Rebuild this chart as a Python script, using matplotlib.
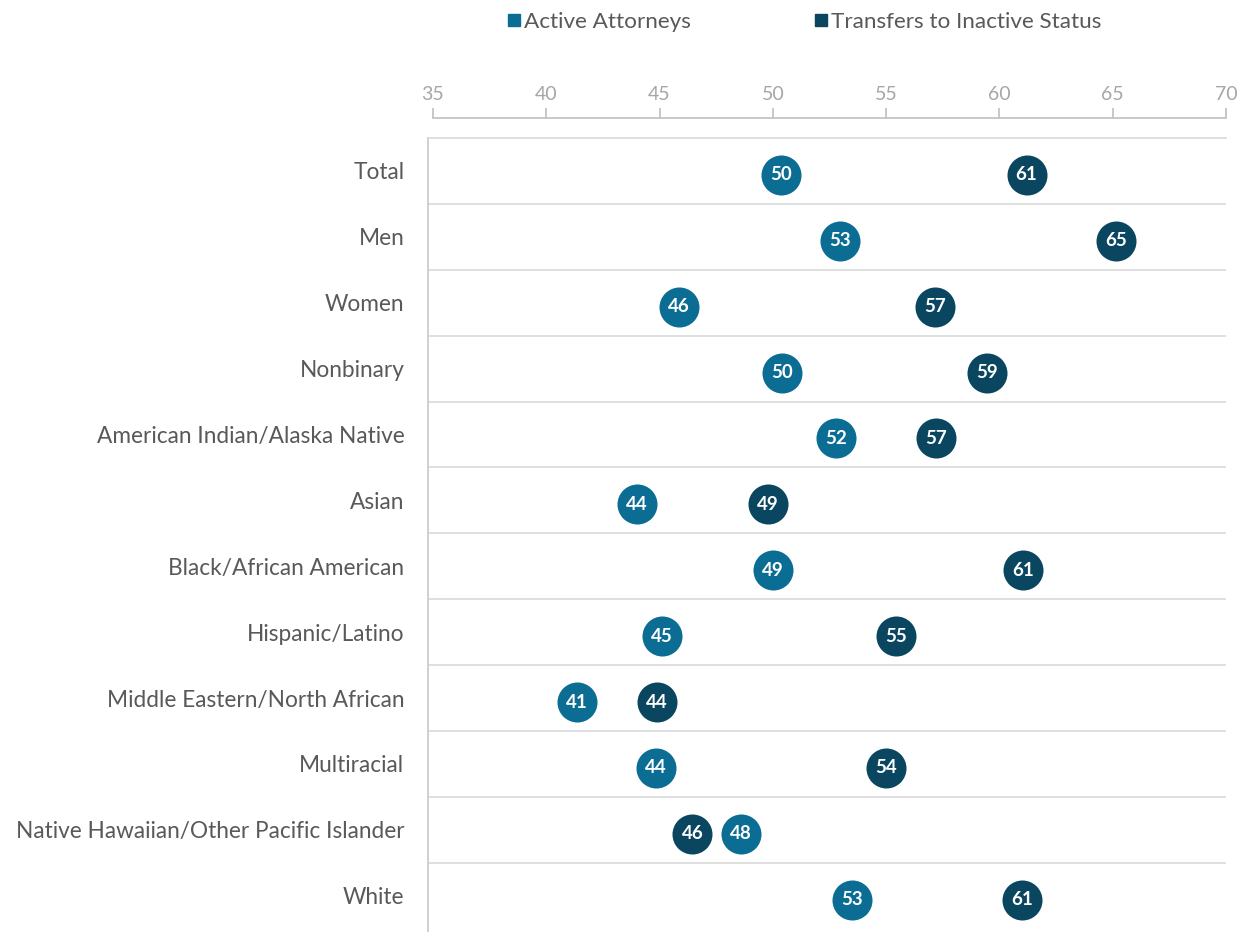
import matplotlib
matplotlib.use("Agg")
import matplotlib.pyplot as plt
from matplotlib.lines import Line2D

plt.rcParams['font.family'] = ['Lato', 'DejaVu Sans']

# data
categories = ['Total', 'Men', 'Women', 'Nonbinary', 'American Indian/Alaska Native',
              'Asian', 'Black/African American', 'Hispanic/Latino',
              'Middle Eastern/North African', 'Multiracial',
              'Native Hawaiian/Other Pacific Islander', 'White']
active = [50.35, 52.95, 45.85, 50.4, 52.8, 44.0, 50.0, 45.1, 41.35, 44.85, 48.6, 53.5]
transfers = [61.2, 65.15, 57.15, 59.45, 57.2, 49.8, 61.05, 55.45, 44.9, 55.0, 46.45, 61.0]
active_labels = [50, 53, 46, 50, 52, 44, 49, 45, 41, 44, 48, 53]
transfer_labels = [61, 65, 57, 59, 57, 49, 61, 55, 44, 54, 46, 61]
ticks = [35, 40, 45, 50, 55, 60, 65, 70]

c_active = '#0b6d93'
c_trans = '#0a465f'
grey = '#595959'

fig = plt.figure(figsize=(12.5, 9.32), dpi=100)

# main plot area
ax = fig.add_axes([428 / 1250, 0.0, 798 / 1250, 1 - 138 / 932])
ax.set_xlim(35 - 5 / 22.66, 70)
n = len(categories)
ax.set_ylim(n - 0.5 + 0.05, -0.5)

for s in ['right', 'bottom']:
    ax.spines[s].set_visible(False)
ax.spines['left'].set_color('#c8c8c8')
ax.spines['top'].set_color('#d9d9d9')
ax.spines['left'].set_linewidth(1.2)
ax.spines['top'].set_linewidth(1.2)
for i in range(1, n):
    ax.axhline(i - 0.5, color='#d9d9d9', lw=1.2, zorder=0)

ax.set_xticks([])
ax.set_yticks(range(n))
ax.set_yticklabels(categories, fontsize=16.3, color=grey)
ax.tick_params(axis='y', length=0, pad=17)

ypos = [i + 0.06 for i in range(n)]
ax.scatter(active, ypos, s=830, color=c_active, zorder=3, linewidths=0)
ax.scatter(transfers, ypos, s=830, color=c_trans, zorder=3, linewidths=0)
for x, y, lab in zip(active, ypos, active_labels):
    ax.text(x, y, str(lab), color='white', ha='center', va='center',
            fontsize=13.5, fontweight='bold', zorder=4)
for x, y, lab in zip(transfers, ypos, transfer_labels):
    ax.text(x, y, str(lab), color='white', ha='center', va='center',
            fontsize=13.5, fontweight='bold', zorder=4)

# separate value axis above the plot
ax2 = fig.add_axes([433 / 1250, 1 - 118 / 932, 793 / 1250, 0.0001])
ax2.set_xlim(35, 70)
ax2.set_yticks([])
for s in ['top', 'right', 'left']:
    ax2.spines[s].set_visible(False)
ax2.spines['bottom'].set_color('#bfbfbf')
ax2.spines['bottom'].set_linewidth(1.2)
ax2.set_xticks(ticks)
ax2.tick_params(axis='x', direction='in', length=7, color='#bfbfbf', width=1.2,
                labelbottom=False, labeltop=True, top=False, bottom=True,
                labelsize=14, labelcolor='#a6a6a6', pad=11)

handles = [Line2D([], [], marker='s', ls='', color=c_active, markersize=9),
           Line2D([], [], marker='s', ls='', color=c_trans, markersize=9)]
fig.legend(handles, ['Active Attorneys', 'Transfers to Inactive Status'],
           loc='center', bbox_to_anchor=(803 / 1250, 1 - 22 / 932), ncol=2,
           frameon=False, fontsize=16.2, labelcolor=grey, handletextpad=0.05,
           columnspacing=5.4, handlelength=0.8)

fig.savefig('out.png', dpi=100)
